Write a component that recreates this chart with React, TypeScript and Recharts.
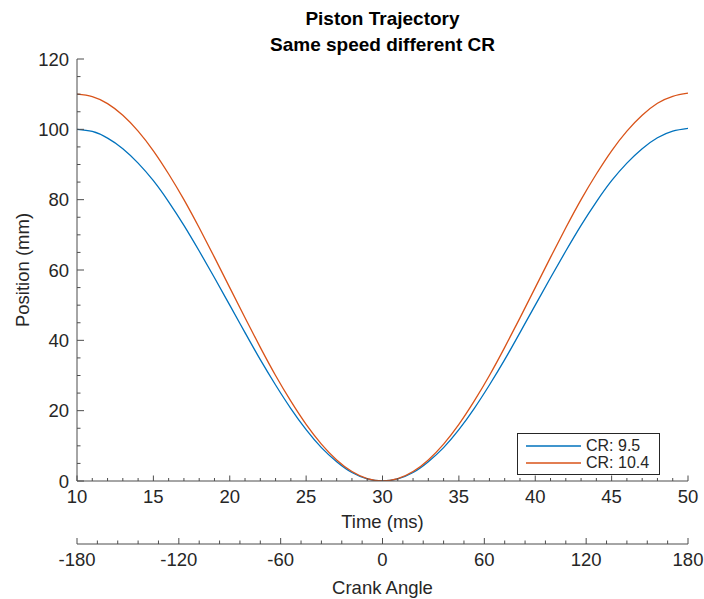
import { LineChart, Line, XAxis, YAxis, Legend, Label } from "recharts";

// Piston position vs time, two compression ratios, with a crank-angle axis below.
const TIME_MS = [
  10, 11, 12, 13, 14, 15, 16, 17, 18, 19, 20, 21, 22, 23, 24, 25, 26, 27, 28, 29, 30,
  31, 32, 33, 34, 35, 36, 37, 38, 39, 40, 41, 42, 43, 44, 45, 46, 47, 48, 49, 50,
];
const CRANK_DEG = [
  -180, -171, -162, -153, -144, -135, -126, -117, -108, -99, -90, -81, -72, -63, -54, -45, -36, -27, -18, -9, 0,
  9, 18, 27, 36, 45, 54, 63, 72, 81, 90, 99, 108, 117, 126, 135, 144, 153, 162, 171, 180,
];
const CR_9_5 = [
  100, 99.4, 97.5, 94.5, 90.4, 85.4, 79.4, 72.7, 65.4, 57.8, 50, 42.2, 34.5, 27.3, 20.6, 14.6, 9.5, 5.5, 2.4, 0.6, 0,
  0.6, 2.4, 5.5, 9.5, 14.6, 20.6, 27.3, 34.5, 42.2, 50, 57.8, 65.4, 72.7, 79.4, 85.4, 90.4, 94.5, 97.6, 99.5, 100.3,
];
const CR_10_4 = [
  110, 109.3, 107.3, 104, 99.5, 93.9, 87.3, 80, 72, 63.6, 55, 46.4, 38, 30, 22.7, 16.1, 10.5, 6, 2.7, 0.7, 0,
  0.7, 2.7, 6, 10.5, 16.1, 22.7, 30, 38, 46.4, 55, 63.6, 72, 80, 87.3, 93.9, 99.5, 104, 107.4, 109.4, 110.3,
];

const TIME_TICKS = [10, 15, 20, 25, 30, 35, 40, 45, 50];
const TIME_ALL_TICKS = [
  10, 11, 12, 13, 14, 15, 16, 17, 18, 19, 20, 21, 22, 23, 24, 25, 26, 27, 28, 29, 30,
  31, 32, 33, 34, 35, 36, 37, 38, 39, 40, 41, 42, 43, 44, 45, 46, 47, 48, 49, 50,
];
const CRANK_TICKS = [-180, -120, -60, 0, 60, 120, 180];
const CRANK_ALL_TICKS = [
  -180, -168, -156, -144, -132, -120, -108, -96, -84, -72, -60, -48, -36, -24, -12, 0,
  12, 24, 36, 48, 60, 72, 84, 96, 108, 120, 132, 144, 156, 168, 180,
];
const Y_TICKS = [0, 20, 40, 60, 80, 100, 120];
const Y_ALL_TICKS = [
  0, 5, 10, 15, 20, 25, 30, 35, 40, 45, 50, 55, 60, 65, 70, 75, 80, 85, 90, 95, 100, 105, 110, 115, 120,
];

const SERIES = [
  { key: "cr95", label: "CR: 9.5", color: "#0072BD" },
  { key: "cr104", label: "CR: 10.4", color: "#D95319" },
];

const data = TIME_MS.map((t, i) => ({ t, deg: CRANK_DEG[i], cr95: CR_9_5[i], cr104: CR_10_4[i] }));

const INK = "#262626";
const AXIS = "#4d4d4d";
const FONT = "'Liberation Sans', Arial, Helvetica, sans-serif";
const FS = 18.5;

// MATLAB style: ticks point into the plot box
const TimeTick = (p: any) => {
  const v = p.payload.value;
  const major = TIME_TICKS.includes(v);
  return (
    <g>
      <line x1={p.x} y1={p.y} x2={p.x} y2={p.y - (major ? 5.5 : 3)} stroke={AXIS} />
      {major && (
        <text x={p.x} y={p.y + 22} textAnchor="middle" fontSize={FS} fontFamily={FONT} fill={INK}>
          {v}
        </text>
      )}
    </g>
  );
};

const TopTick = (p: any) => {
  const major = TIME_TICKS.includes(p.payload.value);
  return <line x1={p.x} y1={p.y} x2={p.x} y2={p.y + (major ? 5.5 : 3)} stroke={AXIS} />;
};

const CrankTick = (p: any) => {
  const v = p.payload.value;
  const major = CRANK_TICKS.includes(v);
  return (
    <g>
      <line x1={p.x} y1={p.y} x2={p.x} y2={p.y - (major ? 6 : 3.5)} stroke={AXIS} />
      {major && (
        <text x={p.x} y={p.y + 22} textAnchor="middle" fontSize={FS} fontFamily={FONT} fill={INK}>
          {v}
        </text>
      )}
    </g>
  );
};

const LeftTick = (p: any) => {
  const v = p.payload.value;
  const major = Y_TICKS.includes(v);
  return (
    <g>
      <line x1={p.x} y1={p.y} x2={p.x + (major ? 7 : 3.5)} y2={p.y} stroke={AXIS} />
      {major && (
        <text x={p.x - 8} y={p.y + 6.5} textAnchor="end" fontSize={FS} fontFamily={FONT} fill={INK}>
          {v}
        </text>
      )}
    </g>
  );
};

const RightTick = (p: any) => {
  const major = Y_TICKS.includes(p.payload.value);
  return <line x1={p.x} y1={p.y} x2={p.x - (major ? 7 : 3.5)} y2={p.y} stroke={AXIS} />;
};

const LegendBox = () => (
  <div
    style={{
      width: 143,
      height: 42,
      boxSizing: "border-box",
      border: `1px solid ${INK}`,
      background: "#fff",
      padding: "4px 0 0 8px",
      fontFamily: FONT,
      fontSize: 16,
      color: INK,
      lineHeight: "16.5px",
    }}
  >
    {SERIES.map((s) => (
      <div key={s.key} style={{ display: "flex", alignItems: "center", height: 16.5 }}>
        <svg width={60} height={16} style={{ display: "block" }}>
          <line x1={0} y1={8} x2={55} y2={8} stroke={s.color} strokeWidth={1.5} />
        </svg>
        <span>{s.label}</span>
      </div>
    ))}
  </div>
);

export default function App() {
  return (
    <div style={{ position: "absolute", left: 0, top: 0, width: 704, height: 599, background: "#fff" }}>
      <div
        style={{
          position: "absolute",
          left: 77,
          width: 611,
          top: 6,
          textAlign: "center",
          fontFamily: FONT,
          fontWeight: "bold",
          fontSize: 19,
          lineHeight: "26px",
          color: "#000",
          zIndex: 1,
        }}
      >
        <div>Piston Trajectory</div>
        <div>Same speed different CR</div>
      </div>
      <LineChart width={704} height={599} data={data} margin={{ top: 59, right: 16, bottom: 0, left: 0 }}>
        <XAxis
          xAxisId="a"
          dataKey="t"
          type="number"
          domain={[10, 50]}
          ticks={TIME_ALL_TICKS}
          interval={0}
          allowDataOverflow
          height={63}
          tickSize={0}
          tickMargin={0}
          tickLine={false}
          axisLine={{ stroke: AXIS }}
          tick={(p: any) => <TimeTick {...p} />}
        >
          <Label
            value="Time (ms)"
            position="insideTop"
            offset={34}
            style={{ fontSize: FS, fill: INK, fontFamily: FONT }}
          />
        </XAxis>
        <XAxis
          xAxisId="b"
          dataKey="deg"
          type="number"
          domain={[-180, 180]}
          ticks={CRANK_ALL_TICKS}
          interval={0}
          allowDataOverflow
          height={55}
          tickSize={0}
          tickMargin={0}
          tickLine={false}
          axisLine={{ stroke: AXIS }}
          tick={(p: any) => <CrankTick {...p} />}
        >
          <Label
            value="Crank Angle"
            position="insideTop"
            offset={37}
            style={{ fontSize: FS, fill: INK, fontFamily: FONT }}
          />
        </XAxis>
        <XAxis
          xAxisId="c"
          orientation="top"
          dataKey="t"
          type="number"
          domain={[10, 50]}
          ticks={TIME_ALL_TICKS}
          interval={0}
          allowDataOverflow
          height={0}
          tickSize={0}
          tickMargin={0}
          tickLine={false}
          axisLine={{ stroke: AXIS }}
          tick={(p: any) => <TopTick {...p} />}
        />
        <YAxis
          yAxisId="left"
          type="number"
          domain={[0, 120]}
          ticks={Y_ALL_TICKS}
          interval={0}
          allowDataOverflow
          width={77}
          tickSize={0}
          tickMargin={0}
          tickLine={false}
          axisLine={{ stroke: AXIS }}
          tick={(p: any) => <LeftTick {...p} />}
        >
          <Label
            value="Position (mm)"
            angle={-90}
            position="insideLeft"
            offset={22}
            style={{ fontSize: FS, fill: INK, fontFamily: FONT, textAnchor: "middle" }}
          />
        </YAxis>
        <YAxis
          yAxisId="right"
          orientation="right"
          type="number"
          domain={[0, 120]}
          ticks={Y_ALL_TICKS}
          interval={0}
          allowDataOverflow
          width={0}
          tickSize={0}
          tickMargin={0}
          tickLine={false}
          axisLine={{ stroke: AXIS }}
          tick={(p: any) => <RightTick {...p} />}
        />
        {SERIES.map((s) => (
          <Line
            key={s.key}
            xAxisId="a"
            yAxisId="left"
            type="natural"
            dataKey={s.key}
            name={s.label}
            stroke={s.color}
            strokeWidth={1.3}
            dot={false}
            activeDot={false}
            isAnimationActive={false}
          />
        ))}
        <Legend
          layout="horizontal"
          verticalAlign="middle"
          align="center"
          wrapperStyle={{ left: 517, top: 433, width: 143, height: 42 }}
          content={() => <LegendBox />}
        />
      </LineChart>
    </div>
  );
}
